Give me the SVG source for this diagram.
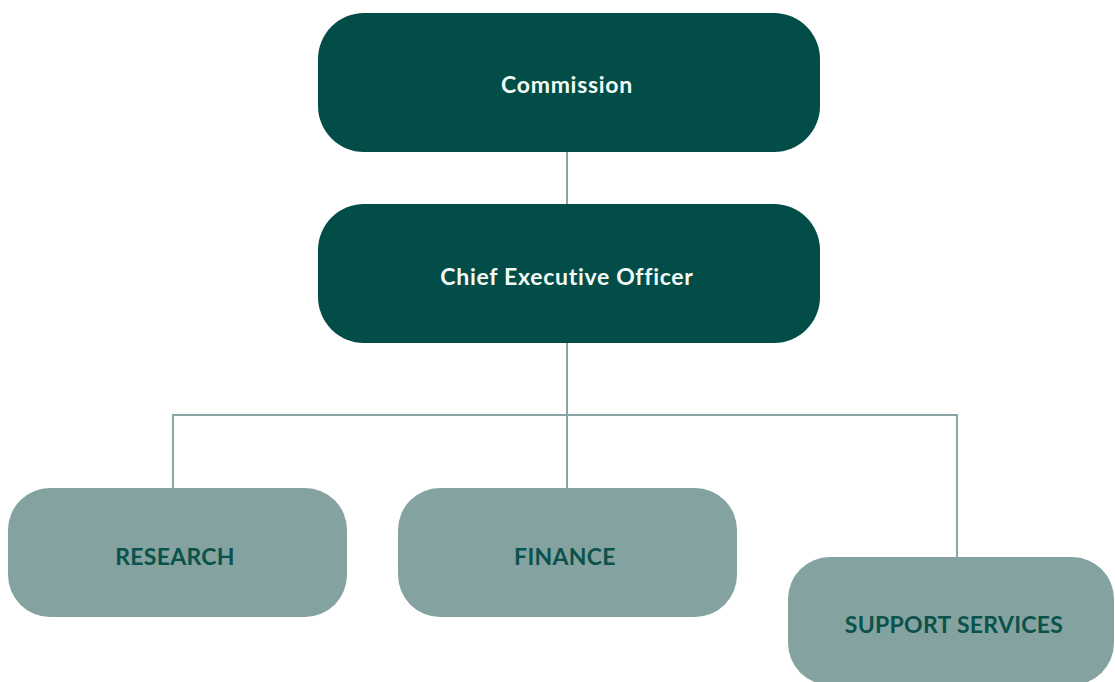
<svg xmlns="http://www.w3.org/2000/svg" width="1115" height="682" viewBox="0 0 1115 682">
<style>
.dark{fill:#024d47}
.light{fill:#83a2a0}
.tl{font-family:Lato,"Liberation Sans",sans-serif;font-weight:700;font-size:23px;text-anchor:middle}
.tw{fill:#f2faf7;letter-spacing:0.7px}
.td{fill:#0b524b;letter-spacing:0.3px}
.conn{stroke:#8aa6a4;stroke-width:2;fill:none}
</style>
<rect width="1115" height="682" fill="#ffffff"/>
<g id="connectors">
<line class="conn" x1="567" y1="152" x2="567" y2="204"/>
<line class="conn" x1="567" y1="343" x2="567" y2="488"/>
<polyline class="conn" points="173,488 173,415 957,415 957,557"/>
</g>
<g id="commission">
<rect class="dark" x="318" y="13" width="502" height="139" rx="46"/>
<text class="tl tw" x="567" y="93">Commission</text>
</g>
<g id="ceo">
<rect class="dark" x="318" y="204" width="502" height="139" rx="46"/>
<text class="tl tw" x="567" y="285">Chief Executive Officer</text>
</g>
<g id="research">
<rect class="light" x="8" y="488" width="339" height="129" rx="42"/>
<text class="tl td" x="175" y="565">RESEARCH</text>
</g>
<g id="finance">
<rect class="light" x="398" y="488" width="339" height="129" rx="42"/>
<text class="tl td" x="565" y="565">FINANCE</text>
</g>
<g id="support">
<rect class="light" x="788" y="557" width="326" height="128" rx="42"/>
<text class="tl td" x="954" y="633">SUPPORT SERVICES</text>
</g>
</svg>
